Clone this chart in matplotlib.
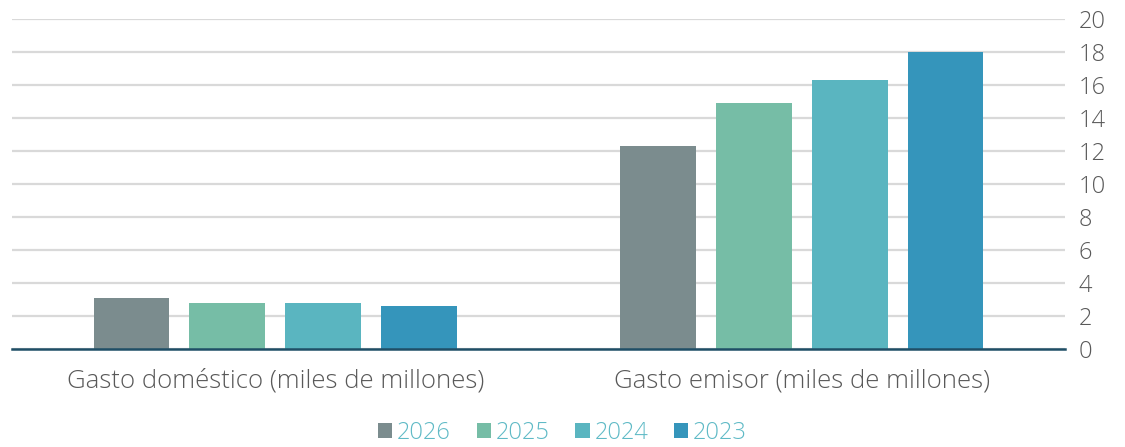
import numpy as np
import matplotlib.pyplot as plt
from matplotlib.patches import Patch

# Data
categories = ['Gasto doméstico (miles de millones)', 'Gasto emisor (miles de millones)']
years = ['2026', '2025', '2024', '2023']
values = {
    '2026': [3.07, 12.3],
    '2025': [2.79, 14.93],
    '2024': [2.77, 16.3],
    '2023': [2.62, 17.98],
}
colors = ['#7b8c8e', '#76bda6', '#5ab5c0', '#3595bb']
yticks = list(range(0, 21, 2))

plt.rcParams['font.family'] = ['Open Sans', 'DejaVu Sans']

fig = plt.figure(figsize=(11.25, 4.47), dpi=100)
ax = fig.add_axes([12 / 1125, 1 - 349 / 447, 1053 / 1125, 330 / 447])

x = np.arange(len(categories))
width = 0.144
step = 0.182
for i, yr in enumerate(years):
    ax.bar(x + (i - 1.5) * step, values[yr], width, color=colors[i], zorder=3)

ax.set_xlim(-0.5, 1.5)
ax.set_ylim(0, 20)
ax.set_yticks(yticks)
ax.yaxis.tick_right()
ax.tick_params(axis='y', length=0, pad=10, labelsize=17, labelcolor='#595959')
ax.tick_params(axis='x', length=0, pad=14, labelsize=18.5, labelcolor='#595959')
for lbl in ax.get_yticklabels() + ax.get_xticklabels():
    lbl.set_fontweight('light')
ax.set_xticks(x)
ax.set_xticklabels(categories)

ax.grid(axis='y', color='#d9d9d9', linewidth=1.6, zorder=0)
for s in ['top', 'left', 'right']:
    ax.spines[s].set_visible(False)
ax.spines['bottom'].set_color('#1f4e66')
ax.spines['bottom'].set_linewidth(1.8)
ax.spines['bottom'].set_zorder(4)

handles = [Patch(facecolor=c, label=y) for c, y in zip(colors, years)]
leg = fig.legend(handles=handles, loc='center', bbox_to_anchor=(0.5, 1 - 433 / 447),
                 ncol=4, frameon=False, fontsize=17, handlelength=0.6, handleheight=0.6,
                 handletextpad=0.2, columnspacing=1.1)
for t in leg.get_texts():
    t.set_color('#5fbac6')
    t.set_fontweight('light')

plt.savefig('out.png', dpi=100)
